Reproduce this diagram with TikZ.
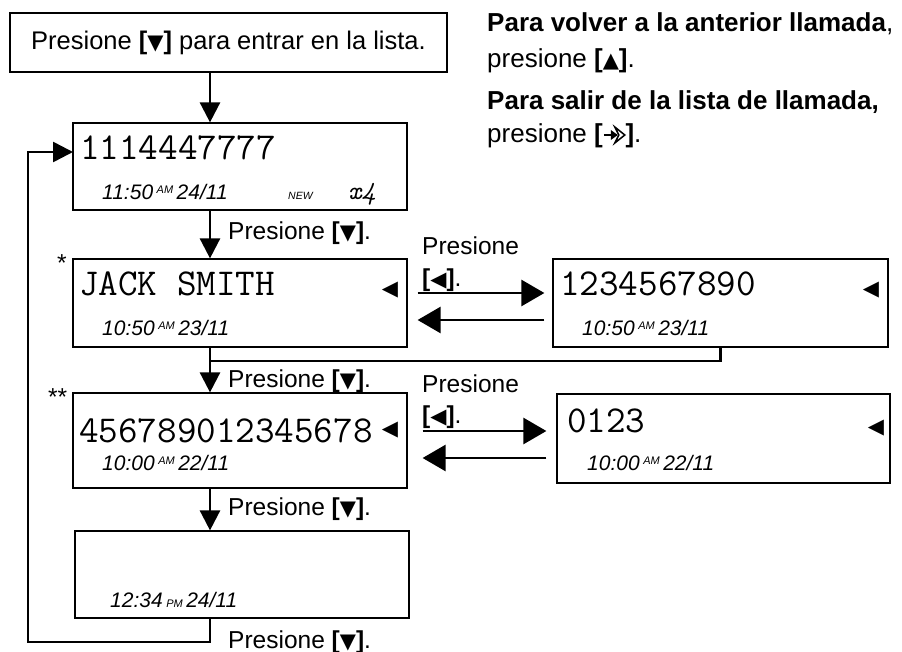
\documentclass[tikz,border=0pt]{standalone}
\usepackage{fontspec}
\usepackage{tikz}
\usetikzlibrary{arrows.meta,calc}
\setmainfont{Liberation Sans}
\newfontfamily\symfont{DejaVu Sans}
\newcommand{\keydn}{\textbf{[}{\symfont\fontsize{21}{21}\selectfont ▼}\textbf{]}}
\newcommand{\keyup}{\textbf{[}{\symfont\fontsize{21}{21}\selectfont ▲}\textbf{]}}
\newcommand{\keylt}{\textbf{[}{\symfont\fontsize{21}{21}\selectfont ◀}\textbf{]}}
\newcommand{\keyexit}{\textbf{[}\tikz[baseline=0pt,x=1pt,y=1pt,line width=2pt]{%
    \draw (0,8)--(9,8);
    \fill (7,3)--(14,8)--(7,13)--cycle;
    \draw[line width=1.5pt,line join=miter] (11,0)--(21,8)--(11,16)--(15,8)--cycle;}\textbf{]}}
\newcommand{\stamp}[3]{#1\,\raisebox{6pt}{\fontsize{11}{11}\selectfont #2}\,#3}

\begin{document}
\begin{tikzpicture}[x=1pt,y=-1pt,
    box/.style={draw,line width=1.2pt,inner sep=0pt,minimum width=334pt},
    lcd/.style={font=\ttfamily\fontsize{38}{38}\selectfont,anchor=base west,inner sep=0pt},
    stampfont/.style={font=\itshape\fontsize{21}{21}\selectfont,anchor=base west,inner sep=0pt},
    txt/.style={font=\fontsize{24.5}{28}\selectfont,anchor=base west,inner sep=0pt},
    cur/.style={font=\symfont\fontsize{21}{21}\selectfont,inner sep=0pt},
    varrow/.style={line width=2.6pt,-{Triangle[length=20pt,width=20pt]}},
    harrow/.style={line width=2.6pt,-{Triangle[length=23pt,width=26pt]}},
    link/.style={line width=2.6pt}]
    \useasboundingbox (0,0) rectangle (902,652);

    % boxes
    \node[box,minimum width=437pt,minimum height=59pt,font=\fontsize{25.5}{28}\selectfont] (start) at (228.5,42.5) {Presione \keydn{} para entrar en la lista.};
    \node[box,minimum height=87pt] (d1) at (240,166.5) {};
    \node[box,minimum height=88pt] (d2) at (240,303) {};
    \node[box,minimum width=335pt,minimum height=88pt] (d3) at (720.5,303) {};
    \node[box,minimum height=95pt] (d4) at (240,440.5) {};
    \node[box,minimum width=333pt,minimum height=89pt] (d5) at (723.5,438.5) {};
    \node[box,minimum height=87pt] (d6) at (242,574.5) {};

    % display contents
    \node[lcd] (n1) at (80,160) {1114447777};
    \node[stampfont] (t1) at (102,200) {\stamp{11:50}{AM}{24/11}};
    \node[stampfont,font=\itshape\fontsize{10.5}{10.5}\selectfont] (new1) at (288,200) {NEW};
    \node[stampfont,font=\ttfamily\itshape\fontsize{26}{26}\selectfont] (x1) at (348,200) {x4};
    \node[lcd] (n2) at (79,295) {JACK SMITH};
    \node[stampfont] (t2) at (102,335) {\stamp{10:50}{AM}{23/11}};
    \node[cur] (c2) at (390,290) {◀};
    \node[lcd] (n3) at (560,295) {1234567890};
    \node[stampfont] (t3) at (582,335) {\stamp{10:50}{AM}{23/11}};
    \node[cur] (c3) at (871,290) {◀};
    \node[lcd] (n4) at (79,442) {456789012345678};
    \node[stampfont] (t4) at (102,470) {\stamp{10:00}{AM}{22/11}};
    \node[cur] (c4) at (390,430) {◀};
    \node[lcd] (n5) at (567,432) {0123};
    \node[stampfont] (t5) at (587,470) {\stamp{10:00}{AM}{22/11}};
    \node[cur] (c5) at (876,428) {◀};
    \node[stampfont] (t6) at (110,607) {12:34\,{\fontsize{11}{11}\selectfont PM}\,24/11};

    % marks
    \node[txt] (s2) at (57,272) {*};
    \node[txt] (s4) at (48,405) {**};

    % help text
    \node[txt,font=\fontsize{26}{28}\selectfont] (h1) at (487,32) {\textbf{Para volver a la anterior llamada},};
    \node[txt,font=\fontsize{26}{28}\selectfont] (h2) at (487,68) {presione \keyup.};
    \node[txt,font=\fontsize{26}{28}\selectfont] (h3) at (487,110) {\textbf{Para salir de la lista de llamada,}};
    \node[txt,font=\fontsize{26}{28}\selectfont] (h4) at (487,143) {presione \keyexit.};

    % labels
    \node[txt] (p1) at (228,240) {Presione \keydn.};
    \node[txt] (p2) at (228,387) {Presione \keydn.};
    \node[txt] (p3) at (228,515) {Presione \keydn.};
    \node[txt] (p4) at (228,648) {Presione \keydn.};
    \node[txt] (q1) at (422,255) {Presione};
    \node[txt] (q2) at (422,287) {\keylt.};
    \node[txt] (q3) at (422,392) {Presione};
    \node[txt] (q4) at (422,423) {\keylt.};

    % arrows down
    \coordinate (col) at (210,0);
    \coordinate (j2) at (210,361);
    \coordinate (lp) at (28,642);
    \coordinate (d1in) at (73,152);
    \draw[varrow] (start.south -| col) -- (d1.north -| col);
    \draw[varrow] (d1.south -| col) -- (d2.north -| col);
    \draw[varrow] (d2.south -| col) -- (d4.north -| col);
    \draw[link] (d3.south) |- (j2);
    \draw[varrow] (d4.south -| col) -- (d6.north -| col);
    \draw[varrow] (d6.south -| col) |- (lp) |- (d1in);

    % arrows across
    \coordinate (r1) at (0,293);
    \coordinate (l1) at (0,320);
    \coordinate (r2) at (0,431);
    \coordinate (l2) at (0,458);
    \draw[harrow] ($(d2.east |- r1)+(10,0)$) -- ($(d3.west |- r1)+(-8,0)$);
    \draw[harrow] ($(d3.west |- l1)+(-8,0)$) -- ($(d2.east |- l1)+(10,0)$);
    \draw[harrow] ($(d4.east |- r2)+(15,0)$) -- ($(d5.west |- r2)+(-10,0)$);
    \draw[harrow] ($(d5.west |- l2)+(-10,0)$) -- ($(d4.east |- l2)+(15,0)$);
\end{tikzpicture}
\end{document}
